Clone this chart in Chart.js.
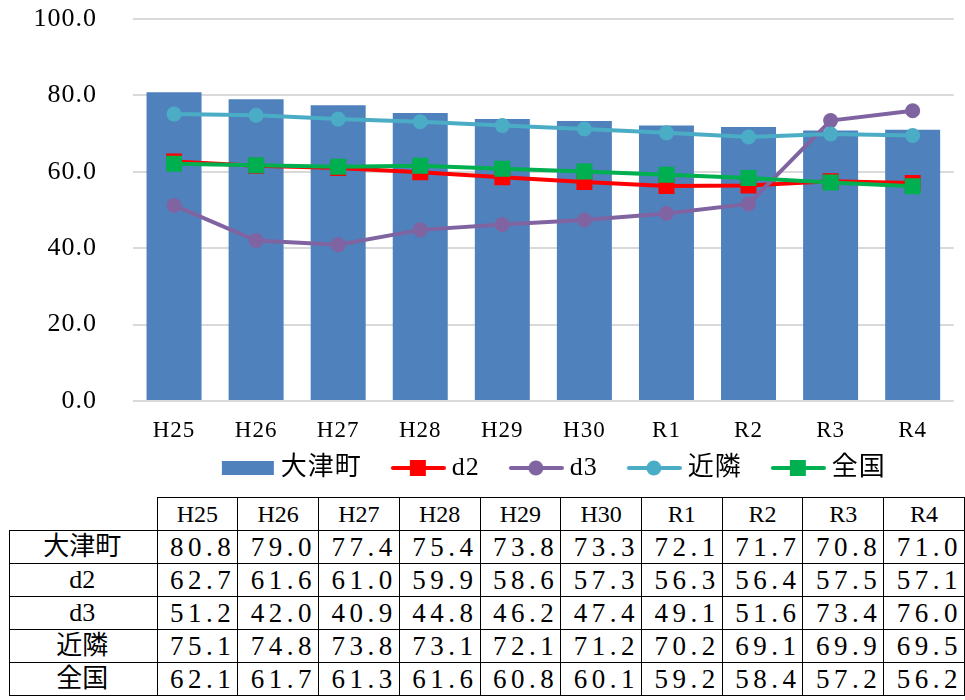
<!DOCTYPE html>
<html>
<head>
<meta charset="utf-8">
<script src="https://cdn.jsdelivr.net/npm/chart.js@4"></script>
<style>
  body { margin: 0; background: #fff; width: 965px; height: 700px; overflow: hidden; }
  #wrap { position: relative; width: 965px; height: 497px; }
  table { position: absolute; left: 9px; top: 497px; border-collapse: collapse; table-layout: fixed; }
  td { border: 1.5px solid #000; height: 32px; padding: 0 2px 0 0; font-family: "Liberation Serif", "Noto Sans CJK JP", serif; font-size: 27px; letter-spacing: 4.5px; text-align: right; color: #000; line-height: 32px; white-space: nowrap; }
  td.head { text-align: center; font-size: 24px; letter-spacing: 0; padding: 0; }
  td.rowname { text-align: center; font-size: 26px; letter-spacing: 0; padding: 0 2px 0 0; }
  td.blank { border: none; }
</style>
</head>
<body>
<div id="wrap"><canvas id="chart" width="965" height="497"></canvas></div>
<table id="data-table"></table>
<script>
const chart_canvas = document.getElementById("chart");
const data_table = document.getElementById("data-table");

const categories = ['H25', 'H26', 'H27', 'H28', 'H29', 'H30', 'R1', 'R2', 'R3', 'R4'];
const otsu_values = [80.8, 79.0, 77.4, 75.4, 73.8, 73.3, 72.1, 71.7, 70.8, 71.0];
const d2_values = [62.7, 61.6, 61.0, 59.9, 58.6, 57.3, 56.3, 56.4, 57.5, 57.1];
const d3_values = [51.2, 42.0, 40.9, 44.8, 46.2, 47.4, 49.1, 51.6, 73.4, 76.0];
const kinrin_values = [75.1, 74.8, 73.8, 73.1, 72.1, 71.2, 70.2, 69.1, 69.9, 69.5];
const zenkoku_values = [62.1, 61.7, 61.3, 61.6, 60.8, 60.1, 59.2, 58.4, 57.2, 56.2];
const series_names = ['大津町', 'd2', 'd3', '近隣', '全国'];
const y_ticks = [0, 20, 40, 60, 80, 100];

const FONT = '"Liberation Serif", "Noto Sans CJK JP", serif';

// legend pictures: the box is 67 wide, the picture is 81 wide and centred on it,
// so it starts 7px left of the box; drawing sits in its right 55px
function legendIcon(color, marker, isBar) {
    const c = document.createElement('canvas');
    c.width = 81;
    c.height = 18;
    const g = c.getContext('2d');
    g.fillStyle = color;
    g.strokeStyle = color;
    if (isBar) {
        g.fillRect(28, 2, 52, 14);
        return c;
    }
    g.lineWidth = 4;
    g.lineCap = 'round';
    g.beginPath();
    g.moveTo(28, 9);
    g.lineTo(79, 9);
    g.stroke();
    if (marker === 'rect') {
        g.fillRect(45, 1, 16, 16);
    } else {
        g.beginPath();
        g.arc(53, 9, 7.5, 0, Math.PI * 2);
        g.fill();
    }
    return c;
}

const spacingPlugin = {
    id: 'spacing',
    beforeUpdate(chart) { chart.ctx.letterSpacing = '1px'; },
    beforeDraw(chart) { chart.ctx.letterSpacing = '1px'; }
};

function lineSet(label, data, color, style, order) {
    const r = style === 'rect' ? 11.3 : 7.5;
    return {
        type: 'line',
        label: label,
        data: data,
        borderColor: color,
        backgroundColor: color,
        borderWidth: 4,
        pointStyle: style,
        pointRadius: r,
        pointHoverRadius: r,
        pointBorderWidth: 0,
        tension: 0,
        order: order
    };
}

(function createChart() {
    const colors = ['#4F81BD', '#FF0000', '#8064A2', '#4BACC6', '#00B050'];
    const icons = [
        legendIcon(colors[0], null, true),
        legendIcon(colors[1], 'rect'),
        legendIcon(colors[2], 'circle'),
        legendIcon(colors[3], 'circle'),
        legendIcon(colors[4], 'rect')
    ];

    new Chart(chart_canvas, {
        type: 'bar',
        data: {
            labels: categories,
            datasets: [
                {
                    type: 'bar',
                    label: series_names[0],
                    data: otsu_values,
                    backgroundColor: colors[0],
                    borderWidth: 0,
                    categoryPercentage: 1,
                    barPercentage: 0.67,
                    order: 6
                },
                lineSet(series_names[1], d2_values, colors[1], 'rect', 5),
                lineSet(series_names[2], d3_values, colors[2], 'circle', 4),
                lineSet(series_names[3], kinrin_values, colors[3], 'circle', 3),
                lineSet(series_names[4], zenkoku_values, colors[4], 'rect', 2)
            ]
        },
        options: {
            responsive: false,
            animation: false,
            layout: { padding: { top: 19, right: 10, left: 0, bottom: 6 } },
            scales: {
                x: {
                    afterFit(scale) { scale.height = 44; scale.paddingLeft = 0; scale.paddingRight = 0; },
                    grid: { display: false, drawTicks: false },
                    border: { display: false },
                    ticks: {
                        color: '#000',
                        padding: 16,
                        font: { family: FONT, size: 23 }
                    }
                },
                y: {
                    min: 0,
                    max: 100,
                    afterFit(scale) { scale.width = 133; scale.paddingTop = 0; scale.paddingBottom = 0; },
                    afterBuildTicks(scale) {
                        scale.ticks = y_ticks.map(v => ({ value: v }));
                    },
                    grid: { color: '#d9d9d9', lineWidth: 2, drawTicks: false },
                    border: { display: false },
                    ticks: {
                        color: '#000',
                        padding: 36,
                        font: { family: FONT, size: 26 },
                        callback: v => Number(v).toFixed(1)
                    }
                }
            },
            plugins: {
                tooltip: { enabled: false },
                legend: {
                    position: 'bottom',
                    fullSize: false,
                    labels: {
                        color: '#000',
                        usePointStyle: true,
                        pointStyleWidth: 67,
                        boxHeight: 18,
                        padding: 10,
                        font: { family: FONT, size: 26 },
                        generateLabels(chart) {
                            return chart.data.datasets.map((ds, i) => ({
                                text: ds.label,
                                pointStyle: icons[i],
                                fillStyle: colors[i],
                                strokeStyle: colors[i],
                                lineWidth: 0,
                                fontColor: '#000',
                                hidden: false,
                                datasetIndex: i
                            }));
                        }
                    }
                }
            }
        },
        plugins: [spacingPlugin]
    });
})();

(function createTable() {
    const series = [otsu_values, d2_values, d3_values, kinrin_values, zenkoku_values];
    let rows = '<colgroup><col style="width:149px">';
    for (let i = 0; i < categories.length; i++) rows += '<col style="width:81px">';
    rows += '</colgroup>';
    rows += '<tr><td class="blank"></td>';
    for (let i = 0; i < categories.length; i++) {
        rows += '<td class="head">' + categories[i] + '</td>';
    }
    rows += '</tr>';
    for (let s = 0; s < series.length; s++) {
        rows += '<tr><td class="rowname">' + series_names[s] + '</td>';
        for (let i = 0; i < categories.length; i++) {
            rows += '<td>' + series[s][i].toFixed(1) + '</td>';
        }
        rows += '</tr>';
    }
    data_table.innerHTML = rows;
})();
</script>
</body>
</html>
